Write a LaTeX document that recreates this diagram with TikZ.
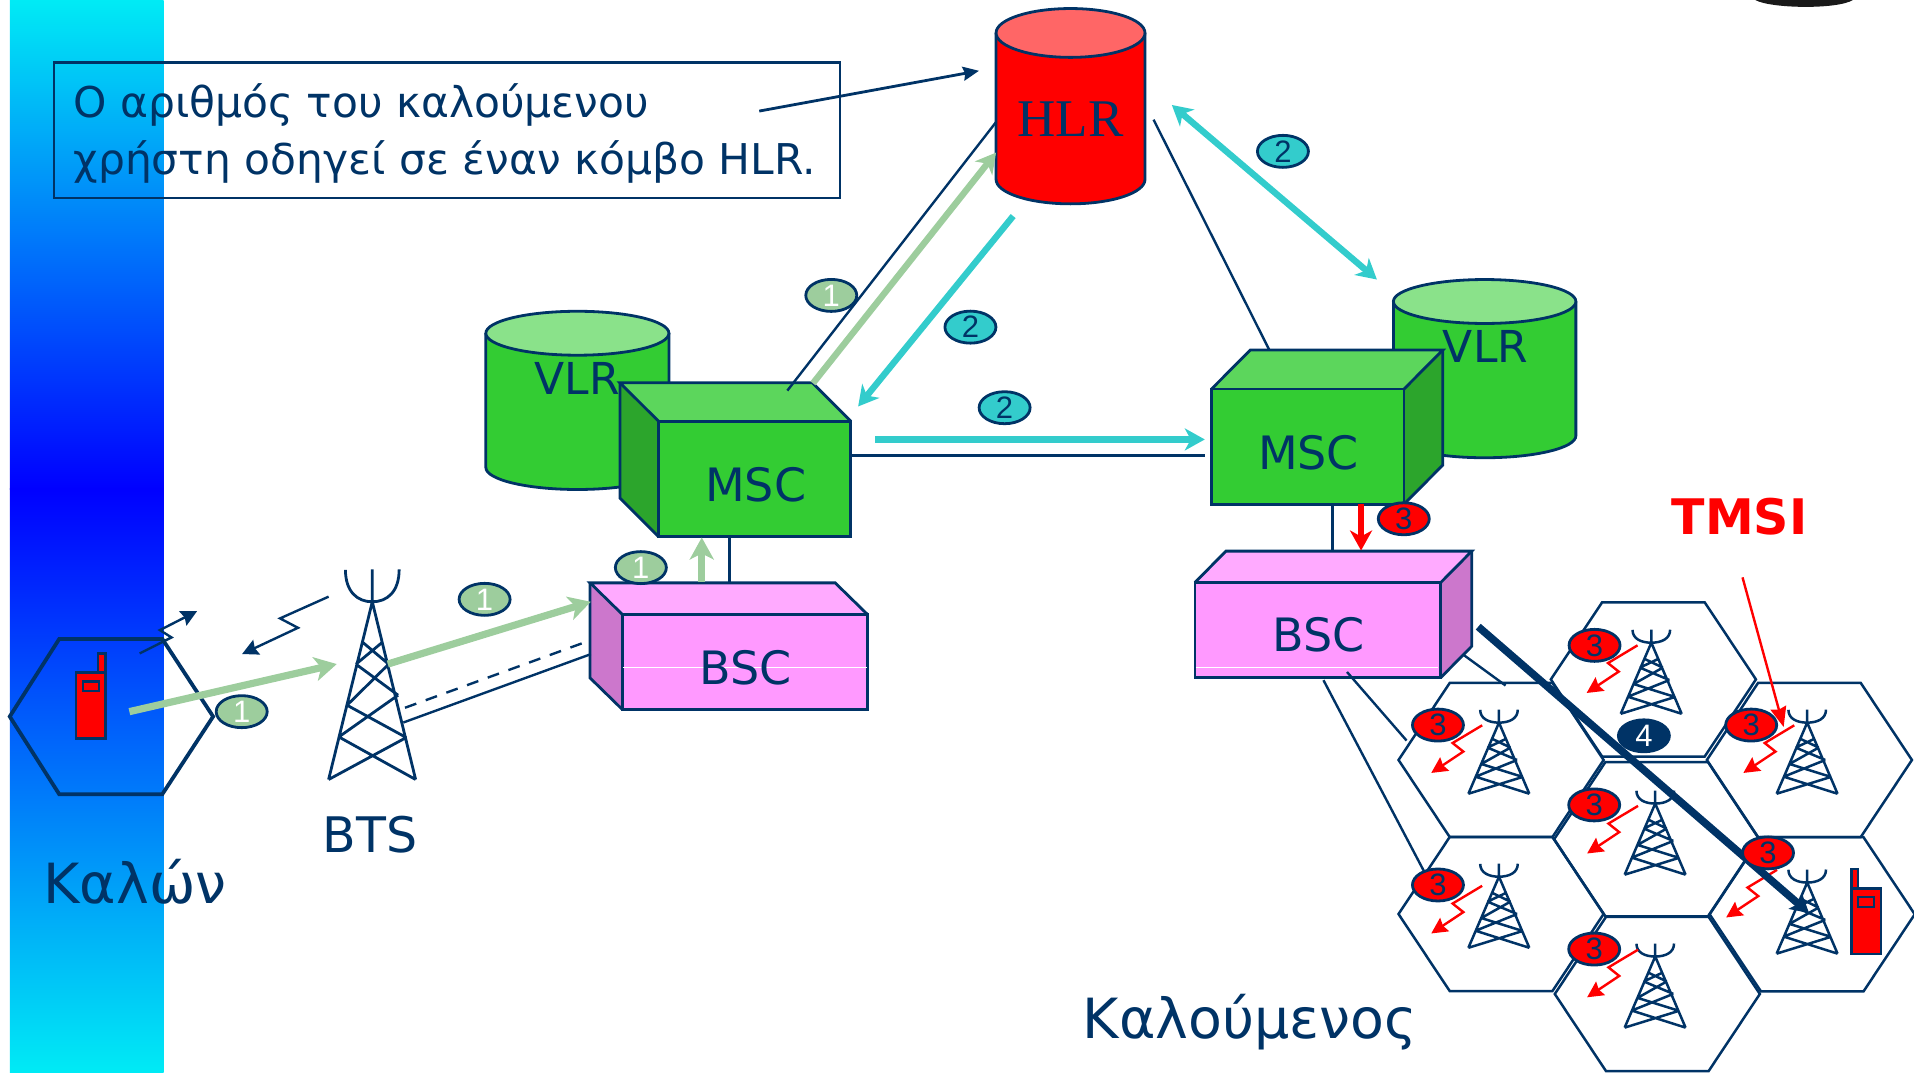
\documentclass[tikz,border=0pt]{standalone}
\usepackage{fontspec}
\setmainfont{DejaVu Sans}
\newfontfamily\numfont{Liberation Sans}
\newfontfamily\hlrfont{Liberation Serif}
\usetikzlibrary{arrows.meta,shapes.geometric}
\definecolor{navy}{HTML}{003366}
\definecolor{lgreen}{HTML}{9DCD9D}
\definecolor{tealc}{HTML}{33CCCC}
\definecolor{gfront}{HTML}{33CC33}
\definecolor{gtop}{HTML}{5CD65C}
\definecolor{gside}{HTML}{2CA52C}
\definecolor{gcap}{HTML}{8AE28A}
\definecolor{pfront}{HTML}{FF99FF}
\definecolor{ptop}{HTML}{FFAAFF}
\definecolor{pside}{HTML}{CC77CC}
\definecolor{rcap}{HTML}{FF6666}
\tikzset{
  ln/.style={draw=navy,line width=1.4pt},
  thin ln/.style={draw=navy,line width=1.2pt},
  hexa/.style={draw=navy,line width=1.25pt,line join=miter},
  oval/.style={ellipse,draw=navy,line width=1.4pt,minimum width=25.5pt,minimum height=16pt,inner sep=0pt,font=\numfont\fontsize{15.5}{15.5}\selectfont},
  ovg/.style={oval,fill=lgreen,text=white},
  ovt/.style={oval,fill=tealc,text=navy},
  ovr/.style={oval,fill=red,text=navy},
  ovn/.style={oval,fill=navy,text=white},
  lbl/.style={text=navy,inner sep=0pt,font=\fontsize{23}{25}\selectfont},
  bigarrow/.style={line width=3.6pt,-{Stealth[length=11pt,width=12pt,inset=3pt]}},
  phone/.style={fill=red,draw=navy,line width=1.2pt},
  bolt/.style={draw=red,line width=1.2pt,-{Stealth[length=8pt,width=8pt,inset=1pt]}},
  navybolt/.style={draw=navy,line width=1.2pt,-{Stealth[length=8pt,width=8pt,inset=1pt]}},
}
\tikzset{
  tower/.pic={
    \draw[navy,line width=\tlw,line join=round]
      (0,-26.6)--(0,0)
      (-22,-26.2) .. controls (-22,-8) and (-12,0) .. (0,0) .. controls (12,0) and (22,-8) .. (22,-26.6)
      (-35.8,145.6)--(0,0)--(35.5,145.6)
      (-7.4,33.6)--(13.4,51.1) (7.7,33.6)--(-13.4,51.1)
      (-13.4,51.1)--(21.1,76.5) (13.4,51.1)--(-20.7,84.7)
      (-20.7,84.7)--(27.8,111.2) (21.1,76.5)--(-27.4,110.7)
      (-27.4,110.7)--(35.5,145.6) (27.8,111.2)--(-35.8,145.6);
  }
}
\def\tlw{1.4pt}
\newcommand{\boxleft}[7]{% front TL x,y; front BR x,y; back offset dx,dy; colour prefix
  \fill[#7front] (#1,#2) rectangle (#3,#4);
  \fill[#7top] (#1,#2)--(#1+#5,#2-#6)--(#3+#5,#2-#6)--(#3,#2)--cycle;
  \ifdim #5pt<0pt
    \fill[#7side] (#1,#2)--(#1+#5,#2-#6)--(#1+#5,#4-#6)--(#1,#4)--cycle;
    \draw[ln,line join=miter] (#1+#5,#2-#6)--(#1+#5,#4-#6)--(#1,#4);
  \else
    \fill[#7side] (#3,#2)--(#3+#5,#2-#6)--(#3+#5,#4-#6)--(#3,#4)--cycle;
    \draw[ln,line join=miter] (#3+#5,#2-#6)--(#3+#5,#4-#6)--(#3,#4);
  \fi
  \draw[ln,line join=miter] (#1,#2) rectangle (#3,#4);
  \draw[ln,line join=miter] (#1,#2)--(#1+#5,#2-#6)--(#3+#5,#2-#6)--(#3,#2);
}
\newcommand{\cyl}[7]{% left right ytop(center of cap) ybottom(center) ry bodycolour capcolour
  \fill[#6] (#1,#3)--(#1,#4) arc[start angle=180,end angle=0,x radius={(#2-#1)/2},y radius=#5]--(#2,#3)--cycle;
  \draw[ln] (#1,#3)--(#1,#4) arc[start angle=180,end angle=0,x radius={(#2-#1)/2},y radius=#5]--(#2,#3);
  \draw[ln,fill=#7] ({(#1+#2)/2},#3) ellipse[x radius={(#2-#1)/2},y radius=#5];
}
\begin{document}
\begin{tikzpicture}[x=0.61033pt,y=-0.61033pt]
\useasboundingbox (0,0) rectangle (1568,879);
% gradient bar
\shade[top color={rgb,255:red,0;green,235;blue,245},bottom color=blue] (8,0) rectangle (134,401);
\shade[top color=blue,bottom color={rgb,255:red,0;green,235;blue,245}] (8,400) rectangle (134,879);
% top-right blob
\fill[black!90] (1438,0) .. controls (1450,7) and (1505,8) .. (1518,0) -- cycle;
% text box
\node[draw=navy,line width=1.2pt,minimum width=393pt,minimum height=67.7pt,anchor=north west,inner sep=0pt] (tbox) at (43.2,50.2) {};
\node[text=navy,anchor=north west,align=left,inner sep=0pt,font=\fontsize{21.2}{28.7}\selectfont] (ttext) at (60,68) {Ο αριθμός του καλούμενου\\χρήστη οδηγεί σε έναν κόμβο HLR.};
% HLR
\cyl{816}{938}{27}{147}{20}{red}{rcap}
\node[text=navy,inner sep=0pt,font=\hlrfont\fontsize{26.5}{27}\selectfont] (hlr) at (877,98) {HLR};
\coordinate (hlrin) at (802,58); \coordinate (textout) at (622,91);
\draw[ln,-{Stealth[length=8pt,width=7pt,inset=1pt]}] (textout)--(hlrin);
% VLRs
\cyl{398}{548}{273}{383}{18}{gfront}{gcap}
\node[lbl,font=\fontsize{22}{24}\selectfont] (vlrl) at (473,310) {VLR};
\cyl{1141.5}{1291}{247}{357}{18}{gfront}{gcap}
\node[lbl,font=\fontsize{22}{24}\selectfont] (vlrr) at (1217,284) {VLR};
% connectors behind boxes
\coordinate (a1) at (645,320); \coordinate (a2) at (816,100);
\coordinate (b1) at (945,98); \coordinate (b2) at (1040,287);
\draw[thin ln] (b1)--(b2);
\coordinate (c1) at (697,373); \coordinate (c2) at (987,373);
\draw[ln] (c1)--(c2);
\coordinate (d1) at (597.6,439.5); \coordinate (d2) at (597.6,477.5);
\draw[ln] (d1)--(d2);
\coordinate (e1) at (1091.5,413); \coordinate (e2) at (1091.5,451.5);
\draw[ln] (e1)--(e2);
% MSC left
\boxleft{539.4}{345}{697}{439.5}{-31.5}{31.4}{g}
\draw[thin ln] (a1)--(a2);
\node[lbl] (mscl) at (619,397) {MSC};
% MSC right
\boxleft{992.5}{318.7}{1150.2}{413}{31.7}{31.9}{g}
\node[lbl] (mscr) at (1072,371) {MSC};
% BSC left
\boxleft{509.9}{503.4}{710.7}{581.3}{-26.5}{25.9}{p}
\draw[white,line width=0.5pt] (510.6,546.9)--(710,546.9);
\node[lbl] (bscl) at (611,547) {BSC};
% BSC right
\boxleft{978.9}{477.2}{1180.3}{555.1}{25.4}{25.7}{p}
\draw[white,line width=0.5pt] (979.6,546.9)--(1178,546.9);
\node[lbl] (bscr) at (1080,520) {BSC};
% hexagons
\foreach \n/\cx/\cy in {hA/1354.5/556.6,hB/1229.7/622.6,hC/1482.3/622.6,hD/1357.2/687.5,hE/1229.7/748.8,hF/1484.6/749,hG/1357.7/814.3}{
  \draw[hexa] (\cx-84,\cy)--(\cx-42,\cy-63.2)--(\cx+42,\cy-63.2)--(\cx+84,\cy)--(\cx+42,\cy+63.2)--(\cx-42,\cy+63.2)--cycle;
}
\draw[navy,line width=1.9pt,line join=miter] (8,587)--(48.5,523.5)--(133,523.5)--(174.6,587)--(133,650.6)--(48.5,650.6)--cycle;
% left tower & links
\pic at (305,493) {tower};
\coordinate (t1) at (331.8,579.8); \coordinate (t2) at (484,524.4);
\coordinate (s1) at (330.4,591.9); \coordinate (s2) at (484,535.9);
\draw[thin ln,dash pattern=on 6pt off 5pt] (t1)--(t2);
\draw[thin ln] (s1)--(s2);
% small towers
\def\tlw{1.25pt}
\foreach \x/\y in {1352.8/526.5,1228/592,1480.5/592,1356/658.3,1228/718.2,1480.5/723,1356/783.6}{
  \pic[xscale=0.7,yscale=0.4] at (\x,\y) {tower};
}
\def\tlw{1.4pt}
% BSC to cells
\coordinate (f1) at (1084.2,557.2); \coordinate (f2) at (1166.7,714);
\coordinate (g1) at (1103.5,550.5); \coordinate (g2) at (1152.3,606.7);
\coordinate (h1) at (1199,536.5); \coordinate (h2) at (1233.4,561.6);
\draw[thin ln] (f1)--(f2) (g1)--(g2) (h1)--(h2);
% phones
\draw[phone] (80.3,535.3) rectangle (86.3,550.9);
\draw[phone] (62.5,550.9) rectangle (86.3,605);
\draw[navy,line width=1.2pt] (68.2,558.2) rectangle (81,566.2);
\draw[phone] (1516.7,711.8) rectangle (1522.2,727.9);
\draw[phone] (1516.7,727.9) rectangle (1540.8,781.4);
\draw[navy,line width=1.2pt] (1522.2,734.9) rectangle (1535,743.2);
% navy bolts
\draw[navybolt] (114.4,535.3)--(140.5,522.2)--(131,516.2)--(161.5,500.6);
\draw[navybolt] (269.2,488.8)--(229.4,506.6)--(244.1,514.3)--(198.3,535.8);
% green arrows
\draw[lgreen,bigarrow] (106,583)--(275.9,544);
\draw[lgreen,bigarrow] (317.7,544)--(484,493);
\draw[lgreen,bigarrow] (574.9,477)--(574.9,440.3);
\draw[lgreen,line width=3.2pt,-{Stealth[length=10pt,width=11pt,inset=3pt]}] (666,314)--(816,125);
% teal arrows
\draw[tealc,line width=3.2pt,-{Stealth[length=10pt,width=11pt,inset=3pt]}] (830,177)--(703,333);
\draw[tealc,line width=3.2pt,-{Stealth[length=10pt,width=11pt,inset=3pt]}] (717,360)--(987,360);
\draw[tealc,line width=3.2pt,{Stealth[length=10pt,width=11pt,inset=3pt]}-{Stealth[length=10pt,width=11pt,inset=3pt]}] (960,86)--(1128,229);
% red arrows
\draw[red,line width=3pt,-{Stealth[length=10pt,width=11pt,inset=3pt]}] (1115,413)--(1115,451);
\draw[red,line width=1.2pt,-{Stealth[length=10pt,width=8pt,inset=1pt]}] (1427.5,473)--(1461.2,595.6);
% bolts at cells
\foreach \x/\y in {1341.5/528.7,1214.2/594.2,1469.9/594.2,1341.9/660.2,1214.2/725.7,1455.8/712.6,1341.9/778}{
  \draw[bolt] (\x,\y)--++(-24.2,14.5)--++(8.8,7)--++(-26.3,17.5);
}
% dark thick arrow
\draw[navy,line width=3.8pt,-{Stealth[length=9pt,width=10pt,inset=2pt]}] (1211,513.4)--(1482,748);
% ovals
\node[ovg] (o1) at (681,242) {1};
\node[ovg] (o2) at (397,491) {1};
\node[ovg] (o3) at (525,465) {1};
\node[ovg] (o4) at (198,583) {1};
\node[ovt] (o5) at (1051,124) {2};
\node[ovt] (o6) at (795,268) {2};
\node[ovt] (o7) at (823,334) {2};
\node[ovr] (o8) at (1150,425) {3};
\node[ovr] (o9) at (1306.3,528.7) {3};
\node[ovr] (o10) at (1178,594) {3};
\node[ovr] (o11) at (1434.6,594) {3};
\node[ovr] (o12) at (1306,659.4) {3};
\node[ovr] (o13) at (1448.4,698.7) {3};
\node[ovr] (o14) at (1178,725) {3};
\node[ovr] (o15) at (1306,777.5) {3};
\node[ovn] (o16) at (1346.7,602.8) {4};
% labels
\node[text=red,inner sep=0pt,font=\bfseries\fontsize{24.5}{26}\selectfont] (tmsi) at (1425,423) {TMSI};
\node[lbl,font=\fontsize{24.5}{26}\selectfont] (bts) at (303,684) {BTS};
\node[text=navy,inner sep=0pt,font=\fontsize{27.7}{30}\selectfont] (kalon) at (110.5,722) {Καλών};
\node[text=navy,inner sep=0pt,font=\fontsize{27.7}{30}\selectfont] (kalou) at (1024,837) {Καλούμενος};
\end{tikzpicture}
\end{document}
